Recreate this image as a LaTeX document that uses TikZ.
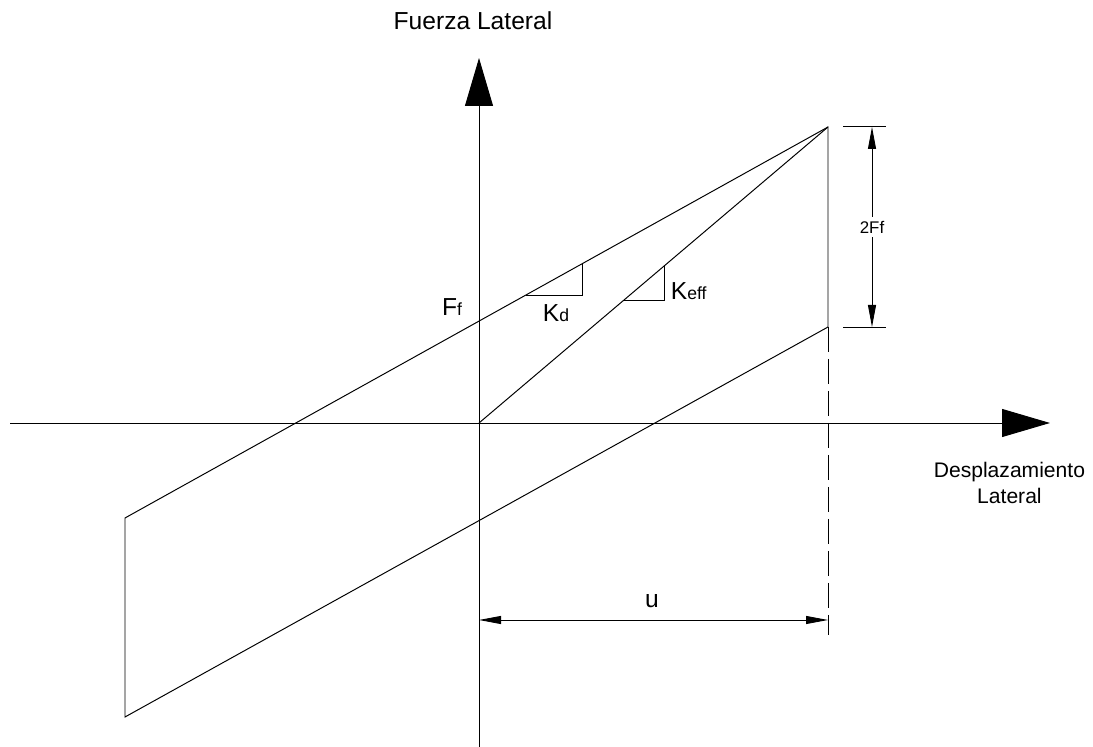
\documentclass[tikz,border=0pt]{standalone}
\usepackage{fontspec}
\setmainfont{Liberation Sans}
\usetikzlibrary{arrows.meta, calc}
\tikzstyle{axis} = [line width=0.7pt, -{Triangle[length=1.2cm, width=0.7cm]}]
\tikzstyle{curve} = [line width=0.7pt]
\tikzstyle{dim} = [line width=0.6pt, {Triangle[length=0.55cm, width=0.2cm]}-{Triangle[length=0.55cm, width=0.2cm]}]
\tikzstyle{label} = [font=\fontsize{17.5}{21}\selectfont, align=center]
\newcommand{\sm}[1]{{\fontsize{12.5}{15}\selectfont #1}}

\begin{document}
\begin{tikzpicture}
				
				% canvas
				\useasboundingbox (0,0) rectangle (27.325,18.675);
				
				% points of the loop
				\coordinate (O) at (11.975,8.1);
				\coordinate (P) at (20.7,15.5);
				\coordinate (C) at (20.7,10.5);
				\coordinate (A) at (3.125,5.725);
				\coordinate (B) at (3.125,0.75);
				\coordinate (Pend) at (20.7,2.8);
				
				% axes
				\coordinate (xstart) at (0.25,8.1);
				\coordinate (xend) at (26.25,8.1);
				\coordinate (ystart) at (11.975,0);
				\coordinate (yend) at (11.975,17.225);
				\draw[axis] (xstart) -- (xend);
				\draw[axis] (ystart) -- (yend);
				
				\node[label] (fuerza) at (11.825,18.15) {Fuerza Lateral};
				\node[label, font=\fontsize{15}{19}\selectfont, anchor=east] (desp) at (27.25,6.6) {Desplazamiento\\Lateral};
				
				% Edges
				\draw[curve] (A) -- (P) -- (C) -- (B) -- cycle;
				\draw[curve] (O) -- (P);
				\draw[curve, dash pattern=on 0.62cm off 0.18cm] (C) -- (Pend);
				
				% slopes
				\coordinate (kd1) at (13.15,11.3);
				\coordinate (kd2) at (14.55,11.3);
				\coordinate (kd3) at (14.55,12.075);
				\draw[curve] (kd1) -- (kd2) -- (kd3);
				\coordinate (ke1) at (15.6,11.175);
				\coordinate (ke2) at (16.6,11.175);
				\coordinate (ke3) at (16.6,12.02);
				\draw[curve] (ke1) -- (ke2) -- (ke3);
				
				\node[label] (Ff) at (11.3,11.0) {F\sm{f}};
				\node[label] (Kd) at (13.9,10.85) {K\sm{d}};
				\node[label, anchor=west] (Keff) at (16.65,11.4) {K\sm{eff}};
				
				% 2Ff dimension
				\coordinate (ext1a) at (21.075,15.5);
				\coordinate (ext1b) at (22.15,15.5);
				\coordinate (ext2a) at (21.075,10.5);
				\coordinate (ext2b) at (22.15,10.5);
				\draw[curve] (ext1a) -- (ext1b);
				\draw[curve] (ext2a) -- (ext2b);
				\coordinate (d1) at (21.8,15.5);
				\coordinate (d2) at (21.8,10.5);
				\draw[dim] (d1) -- node[fill=white, inner sep=3pt, font=\fontsize{12}{14}\selectfont] (twoFf) {2Ff} (d2);
				
				% u dimension
				\coordinate (u1) at (11.975,3.175);
				\coordinate (u2) at (20.7,3.175);
				\draw[dim] (u1) -- (u2);
				\node[label] (u) at (16.3,3.65) {u};
				
			\end{tikzpicture}
\end{document}
